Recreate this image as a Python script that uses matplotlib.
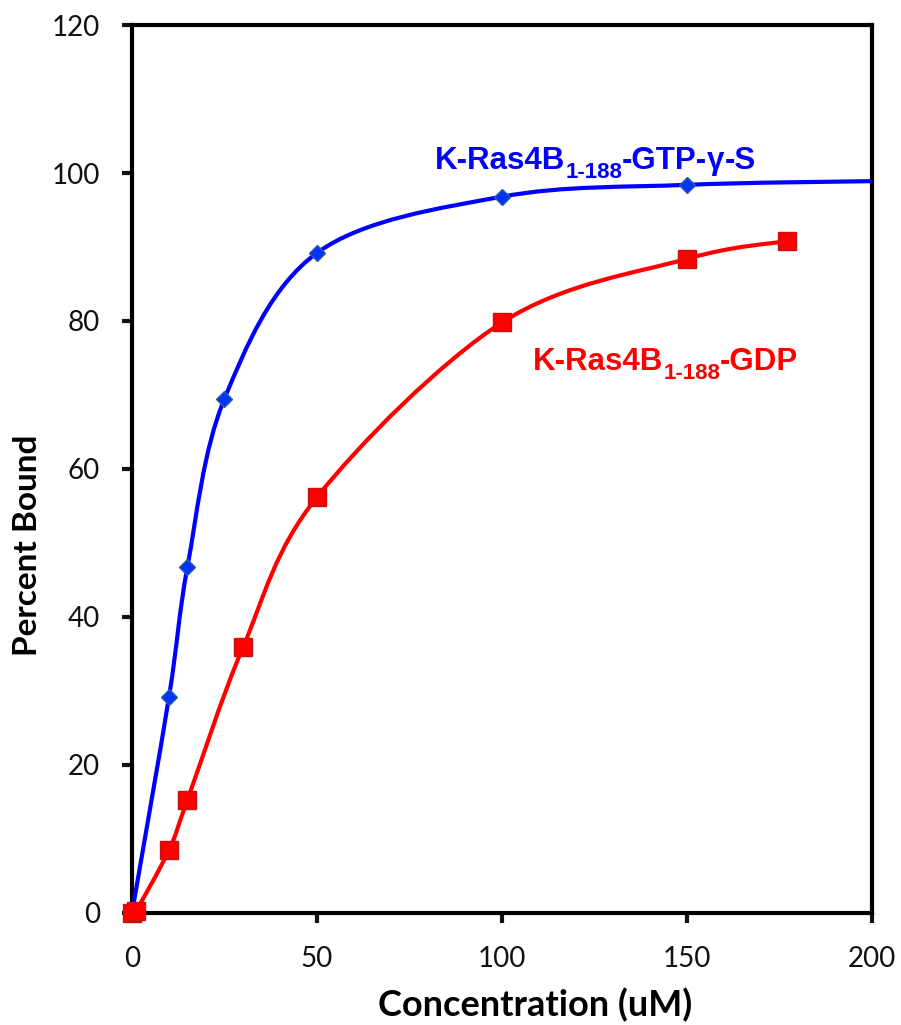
import matplotlib
matplotlib.use('Agg')
import matplotlib.pyplot as plt
import numpy as np
from matplotlib.path import Path
from matplotlib.patches import PathPatch

# data
gtp_x = [0, 10, 15, 25, 50, 100, 150]
gtp_y = [0, 29.2, 46.8, 69.5, 89.2, 96.8, 98.4]
gtp_tail_x = 200      # curve goes on to the edge with no marker
gtp_tail_y = 98.9

gdp_x = [0, 1, 10, 15, 30, 50, 100, 150, 177]
gdp_y = [0, 0.2, 8.5, 15.3, 35.9, 56.2, 79.8, 88.4, 90.8]

x_ticks = [0, 50, 100, 150, 200]
y_ticks = [0, 20, 40, 60, 80, 100, 120]


def smooth_path(xs, ys):
    # excel style smoothed line: cubic bezier through every point
    p = np.column_stack([xs, ys]).astype(float)
    verts = [p[0]]
    codes = [Path.MOVETO]
    n = len(p)
    for i in range(n - 1):
        p0 = p[i - 1] if i > 0 else p[i]
        p3 = p[i + 2] if i + 2 < n else p[i + 1]
        c1 = p[i] + (p[i + 1] - p0) / 6.0
        c2 = p[i + 1] - (p3 - p[i]) / 6.0
        verts += [c1, c2, p[i + 1]]
        codes += [Path.CURVE4] * 3
    return Path(verts, codes)


plt.rcParams['font.family'] = 'Lato'

fig = plt.figure(figsize=(9.01, 10.25), dpi=100)
ax = fig.add_axes([0.1465, 0.1093, 0.8213, 0.8663])

ax.add_patch(PathPatch(smooth_path(gtp_x + [gtp_tail_x], gtp_y + [gtp_tail_y]),
                       fill=False, edgecolor='#0000ff', lw=3, zorder=3))
ax.add_patch(PathPatch(smooth_path(gdp_x, gdp_y),
                       fill=False, edgecolor='#ff0000', lw=3, zorder=3))

ax.plot(gtp_x, gtp_y, ls='none', marker='D', ms=8, mfc='#0033ff',
        mec='#2a5d9a', mew=1, zorder=4, clip_on=False)
ax.plot(gdp_x, gdp_y, ls='none', marker='s', ms=12.5, mfc='#ff0000',
        mec='#c81010', mew=1, zorder=5, clip_on=False)

ax.set_xlim(0, 200)
ax.set_ylim(0, 120)
ax.set_xticks(x_ticks)
ax.set_yticks(y_ticks)
ax.tick_params(labelsize=20, width=3, length=7, direction='out', colors='#111111')
ax.tick_params(axis='y', pad=16)
ax.tick_params(axis='x', pad=17)
for s in ax.spines.values():
    s.set_linewidth(3)

ax.set_xlabel('Concentration (uM)', fontsize=26, fontweight='bold')
ax.xaxis.set_label_coords(0.545, -0.084)
ax.set_ylabel('Percent Bound', fontsize=24, fontweight='bold')
ax.yaxis.set_label_coords(-0.122, 0.414)


def label(x, y, parts, color):
    # parts: list of (text, is_subscript)
    fig.canvas.draw()
    r = fig.canvas.get_renderer()
    disp = ax.transData.transform((x, y))
    cx = disp[0]
    for txt, sub in parts:
        fam = ['Liberation Sans', 'DejaVu Sans']
        dy = -9 if sub else 0
        t = fig.text(cx / fig.dpi / fig.get_figwidth(),
                     (disp[1] + dy) / fig.dpi / fig.get_figheight(),
                     txt, fontsize=16 if sub else 22.5, fontweight='bold',
                     color=color, family=fam, ha='left', va='baseline')
        bb = t.get_window_extent(r)
        cx = bb.x1


label(81.9, 100.5, [('K-Ras4B', False), ('1-188', True), ('-GTP-', False),
                    ('\u03b3', False), ('-S', False)], '#0000ff')
label(108.4, 73.4, [('K-Ras4B', False), ('1-188', True), ('-GDP', False)], '#ff0000')

fig.savefig('out.png', dpi=100)
